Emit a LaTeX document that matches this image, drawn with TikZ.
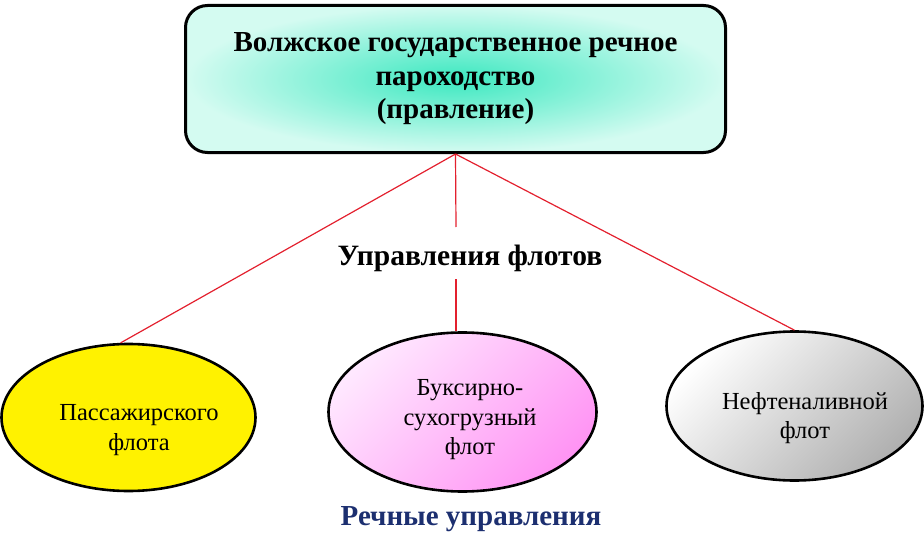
\documentclass[tikz,border=0pt]{standalone}
\usepackage{fontspec}
\setmainfont{Liberation Serif}
\usepackage{xcolor}
\usepackage{tikz}
\usetikzlibrary{positioning}
\usetikzlibrary{shapes.geometric}

\definecolor{aguaCentro}{HTML}{3CE8C0}
\definecolor{aguaBorde}{HTML}{D4FBF1}
\definecolor{rojoLinea}{HTML}{E3202E}
\definecolor{azulTitulo}{HTML}{1C2F70}
\definecolor{rosaClaro}{HTML}{FFE8FF}
\definecolor{rosaOscuro}{HTML}{FF94F4}
\definecolor{grisOscuro}{HTML}{B0B0B0}

\begin{document}
\begin{tikzpicture}[x=1pt, y=-1pt,
        flota/.style={ellipse, draw=black, line width=2.6pt, inner sep=0pt},
        texto/.style={align=center, font=\fontsize{24.5}{29.5}\selectfont},
        enlace/.style={draw=rojoLinea, line width=1.2pt}]
        \useasboundingbox (0,0) rectangle (924,535);

        % Правление
        \node[draw=black, line width=3pt, rounded corners=22pt,
              inner color=aguaCentro, outer color=aguaBorde,
              minimum width=540, minimum height=147,
              align=center, font=\fontsize{29}{33.5}\selectfont\bfseries]
              (gvrp) at (455.5,79) {Волжское государственное речное\\пароходство\\(правление)};

        % Управления флотов
        \node[flota, fill=yellow, minimum width=254, minimum height=147] (pass) at (128.5,417.5) {};
        \node[flota, top color=rosaClaro, bottom color=rosaOscuro, shading angle=45,
              minimum width=268, minimum height=159] (buks) at (462.5,412) {};
        \node[flota, top color=white, bottom color=grisOscuro, shading angle=45,
              minimum width=256, minimum height=149] (neft) at (794.5,406) {};

        \node[texto] (passT) at (139,430) {Пассажирского\\флота};
        \node[texto] (buksT) at (470,420) {Буксирно-\\сухогрузный\\флот};
        \node[texto] (neftT) at (805,418) {Нефтеналивной\\флот};

        % Подписи
        \node[font=\fontsize{29.5}{32}\selectfont\bfseries] (upr) at (470,258) {Управления флотов};
        \node[font=\fontsize{29}{32}\selectfont\bfseries, text=azulTitulo] (rech) at (471,519) {Речные управления};

        % Связи
        \coordinate (cortA) at (456,227);
        \coordinate (cortB) at (456,279);
        \draw[enlace] (gvrp.south) -- (pass.96);
        \draw[enlace] (gvrp.south) -- (neft.north);
        \draw[enlace] (gvrp.south) -- (cortA);
        \draw[enlace] (cortB) -- (cortB |- buks.north);

    \end{tikzpicture}
\end{document}
